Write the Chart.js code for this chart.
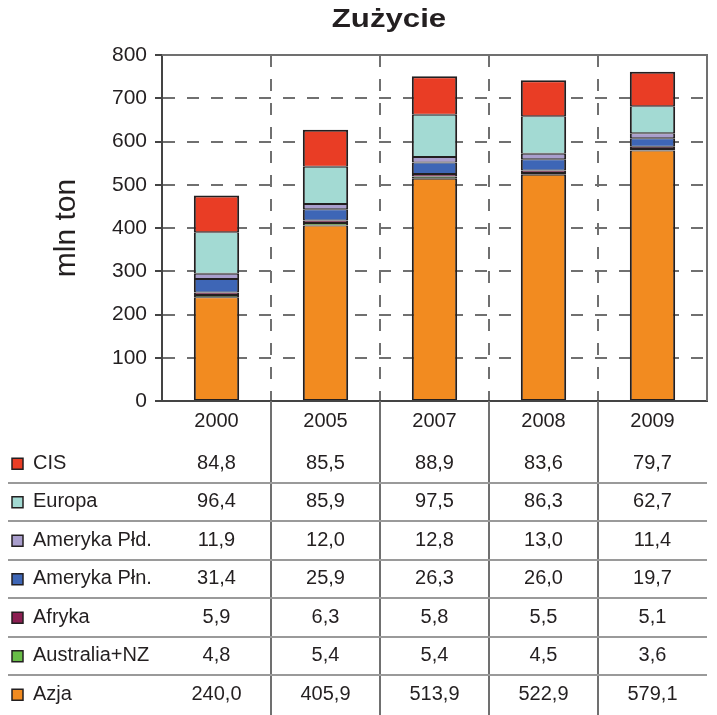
<!DOCTYPE html>
<html lang="pl">
<head>
    <title>Zużycie</title>
    <meta charset="utf-8" />
    <script src="https://cdn.jsdelivr.net/npm/chart.js"></script>
    <style>
        html, body { margin: 0; padding: 0; background: #fff; }
        #wrap { width: 717px; height: 715px; }
    </style>
</head>
<body>
    <div id="wrap"><canvas id="chart"></canvas></div>

    <script>
        // Dane (mln ton)
        var years = ['2000', '2005', '2007', '2008', '2009'];
        var cis        = [84.8, 85.5, 88.9, 83.6, 79.7];
        var europa     = [96.4, 85.9, 97.5, 86.3, 62.7];
        var amerykaPld = [11.9, 12.0, 12.8, 13.0, 11.4];
        var amerykaPln = [31.4, 25.9, 26.3, 26.0, 19.7];
        var afryka     = [5.9, 6.3, 5.8, 5.5, 5.1];
        var australia  = [4.8, 5.4, 5.4, 4.5, 3.6];
        var azja       = [240.0, 405.9, 513.9, 522.9, 579.1];
        var yMin = 0, yMax = 800, yStep = 100;

        var FONT = "'Liberation Sans', Arial, sans-serif";
        var TXT = '#231f20';
        var GRID = '#707070';

        // kolejność wierszy tabeli (od góry), słupki układane od dołu
        var rows = [
            { label: 'CIS',          data: cis,        color: '#e93d25' },
            { label: 'Europa',       data: europa,     color: '#a3dad3' },
            { label: 'Ameryka Płd.', data: amerykaPld, color: '#a99ecd' },
            { label: 'Ameryka Płn.', data: amerykaPln, color: '#3e66b6' },
            { label: 'Afryka',       data: afryka,     color: '#8c1f52' },
            { label: 'Australia+NZ', data: australia,  color: '#68bd47' },
            { label: 'Azja',         data: azja,       color: '#f28b20' }
        ];

        var datasets = rows.slice().reverse().map(function (r, i, arr) {
            var top = (i === arr.length - 1) ? 2 : 1;
            return {
                label: r.label,
                data: r.data,
                backgroundColor: r.color,
                borderColor: TXT,
                borderWidth: { top: top, bottom: 1, left: 2, right: 2 },
                borderSkipped: false,
                barPercentage: 0.8,
                categoryPercentage: 0.52
            };
        });

        function fmt(v) {
            return v.toFixed(1).replace('.', ',');
        }

        // tytuł, ramka i tabela pod wykresem
        var tablePlugin = {
            id: 'tabela',
            afterDraw: function (chart) {
                var ctx = chart.ctx;
                var area = chart.chartArea;
                var xs = chart.scales.x;
                var H = chart.height;
                ctx.save();

                // tytuł (w oryginale czcionka jest rozciągnięta w poziomie)
                ctx.save();
                ctx.fillStyle = TXT;
                ctx.font = 'bold 26px ' + FONT;
                ctx.textAlign = 'center';
                ctx.textBaseline = 'alphabetic';
                ctx.translate(389, 27);
                ctx.scale(1.2, 1);
                ctx.fillText('Zużycie', 0, 0);
                ctx.restore();

                // górna i prawa krawędź
                ctx.strokeStyle = GRID;
                ctx.lineWidth = 2;
                ctx.setLineDash([]);
                ctx.beginPath();
                ctx.moveTo(area.left, area.top);
                ctx.lineTo(area.right, area.top);
                ctx.lineTo(area.right, area.bottom);
                ctx.stroke();

                // pionowe linie tabeli
                for (var i = 0; i < years.length - 1; i++) {
                    var xm = Math.round((xs.getPixelForTick(i) + xs.getPixelForTick(i + 1)) / 2);
                    ctx.beginPath();
                    ctx.moveTo(xm, area.bottom);
                    ctx.lineTo(xm, H);
                    ctx.stroke();
                }

                // wiersze
                var rowTop = 444, rowH = 38.5;
                ctx.font = '20px ' + FONT;
                ctx.textBaseline = 'middle';
                rows.forEach(function (r, k) {
                    var cy = rowTop + rowH * (k + 0.5);
                    if (k < rows.length - 1) {
                        ctx.strokeStyle = '#9a9a9a';
                        ctx.lineWidth = 2;
                        ctx.beginPath();
                        ctx.moveTo(8, Math.round(cy + rowH / 2));
                        ctx.lineTo(area.right, Math.round(cy + rowH / 2));
                        ctx.stroke();
                    }
                    ctx.fillStyle = r.color;
                    ctx.fillRect(12, cy - 5, 11, 11);
                    ctx.strokeStyle = TXT;
                    ctx.lineWidth = 1.5;
                    ctx.strokeRect(12, cy - 5, 11, 11);

                    ctx.fillStyle = TXT;
                    ctx.textAlign = 'left';
                    ctx.fillText(r.label, 33, cy);
                    ctx.textAlign = 'center';
                    r.data.forEach(function (v, j) {
                        ctx.fillText(fmt(v), xs.getPixelForTick(j), cy);
                    });
                });
                ctx.restore();
            }
        };

        var ctx = document.getElementById('chart').getContext('2d');
        new Chart(ctx, {
            type: 'bar',
            data: { labels: years, datasets: datasets },
            plugins: [tablePlugin],
            options: {
                responsive: true,
                maintainAspectRatio: false,
                animation: false,
                devicePixelRatio: 1,
                layout: { padding: { left: 0, right: 10, top: 55, bottom: 0 } },
                plugins: {
                    legend: { display: false },
                    tooltip: { enabled: false }
                },
                scales: {
                    x: {
                        stacked: true,
                        grid: { offset: true, color: GRID, lineWidth: 2, drawTicks: false },
                        border: { color: '#444', width: 2, dash: [12, 12] },
                        ticks: { color: TXT, font: { family: FONT, size: 20 }, padding: 8 },
                        afterFit: function (scale) { scale.height = 715 - 401; }
                    },
                    y: {
                        stacked: true,
                        min: yMin,
                        max: yMax,
                        grid: { color: GRID, lineWidth: 2, tickLength: 7, tickColor: '#444' },
                        border: { color: '#444', width: 2, dash: [12, 12] },
                        ticks: { stepSize: yStep, color: TXT, font: { family: FONT, size: 21 }, padding: 8 },
                        title: {
                            display: true,
                            text: 'mln ton',
                            color: TXT,
                            font: { family: FONT, size: 30 },
                            padding: { top: 49, bottom: 0 }
                        },
                        afterFit: function (scale) { scale.width = 162; }
                    }
                }
            }
        });
    </script>
</body>
</html>
